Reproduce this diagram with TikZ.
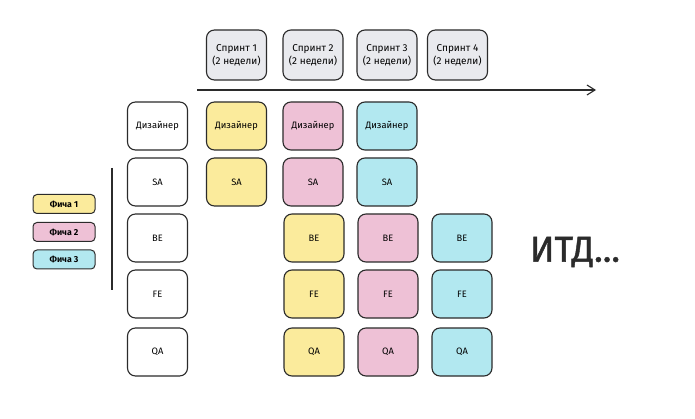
\documentclass[tikz,border=0pt]{standalone}
\usepackage{fontspec}
\setmainfont{Fira Sans}
\newfontfamily\etcfont[FakeBold=1.2]{Fira Sans}
\usetikzlibrary{arrows,arrows.meta}

\definecolor{boxline}{HTML}{2B2B2B}
\definecolor{sprintgray}{HTML}{E9EAEE}
\definecolor{featyellow}{HTML}{FBEB9C}
\definecolor{featpink}{HTML}{EEC1D6}
\definecolor{featcyan}{HTML}{B2E8F0}

\begin{document}
\begin{tikzpicture}[x=1pt,y=-1pt,
    box/.style={draw=boxline,line width=1.1pt,rounded corners=8pt,
      minimum width=60pt,minimum height=48pt,align=center,
      font=\fontsize{9.3}{13}\selectfont},
    sprintbox/.style={box,fill=sprintgray,minimum height=50pt,
      font=\fontsize{10}{13.5}\selectfont},
    legendbox/.style={draw=boxline,line width=1pt,rounded corners=4pt,
      minimum width=62pt,minimum height=19pt,font=\fontsize{8.7}{9}\selectfont\bfseries}]
      \fill[white] (0,0) rectangle (695,419);
      \useasboundingbox (0,0) rectangle (695,419);
      % sprints
      \node[sprintbox] (s1) at (236.5,55) {Спринт 1\\(2 недели)};
      \node[sprintbox] (s2) at (313,55) {Спринт 2\\(2 недели)};
      \node[sprintbox] (s3) at (387,55) {Спринт 3\\(2 недели)};
      \node[sprintbox] (s4) at (457.5,55) {Спринт 4\\(2 недели)};
      \coordinate (tstart) at (197,90);
      \coordinate (tend) at (596,90);
      \draw[-{Straight Barb[length=8pt,width=10pt]},line width=1.1pt,color=boxline] (tstart) -- (tend);
      % roles
      \node[box] (rdes) at (157.5,126) {Дизайнер};
      \node[box] (rsa) at (157.5,182) {SA};
      \node[box] (rbe) at (157.5,238) {BE};
      \node[box] (rfe) at (157.5,294) {FE};
      \node[box] (rqa) at (157.5,352) {QA};
      \coordinate (vtop) at (112,168);
      \coordinate (vbot) at (112,290);
      \draw[line width=1.1pt,color=boxline] (vtop) -- (vbot);
      % features
      \node[box,fill=featyellow] (des1) at (236.5,126) {Дизайнер};
      \node[box,fill=featpink] (des2) at (313,126) {Дизайнер};
      \node[box,fill=featcyan] (des3) at (387,126) {Дизайнер};
      \node[box,fill=featyellow] (sa1) at (236.5,182) {SA};
      \node[box,fill=featpink] (sa2) at (313,182) {SA};
      \node[box,fill=featcyan] (sa3) at (387,182) {SA};
      \node[box,fill=featyellow] (be1) at (314,238) {BE};
      \node[box,fill=featpink] (be2) at (388,238) {BE};
      \node[box,fill=featcyan] (be3) at (462,238) {BE};
      \node[box,fill=featyellow] (fe1) at (314,294) {FE};
      \node[box,fill=featpink] (fe2) at (388,294) {FE};
      \node[box,fill=featcyan] (fe3) at (462,294) {FE};
      \node[box,fill=featyellow] (qa1) at (314,352) {QA};
      \node[box,fill=featpink] (qa2) at (388,352) {QA};
      \node[box,fill=featcyan] (qa3) at (462,352) {QA};
      % legend
      \node[legendbox,fill=featyellow] (f1) at (64,204) {Фича 1};
      \node[legendbox,fill=featpink] (f2) at (64,232) {Фича 2};
      \node[legendbox,fill=featcyan] (f3) at (64,259.5) {Фича 3};
      \node[font=\etcfont\fontsize{36}{40}\selectfont,color=boxline] (etc) at (575,252) {ИТД...};
\end{tikzpicture}
\end{document}
